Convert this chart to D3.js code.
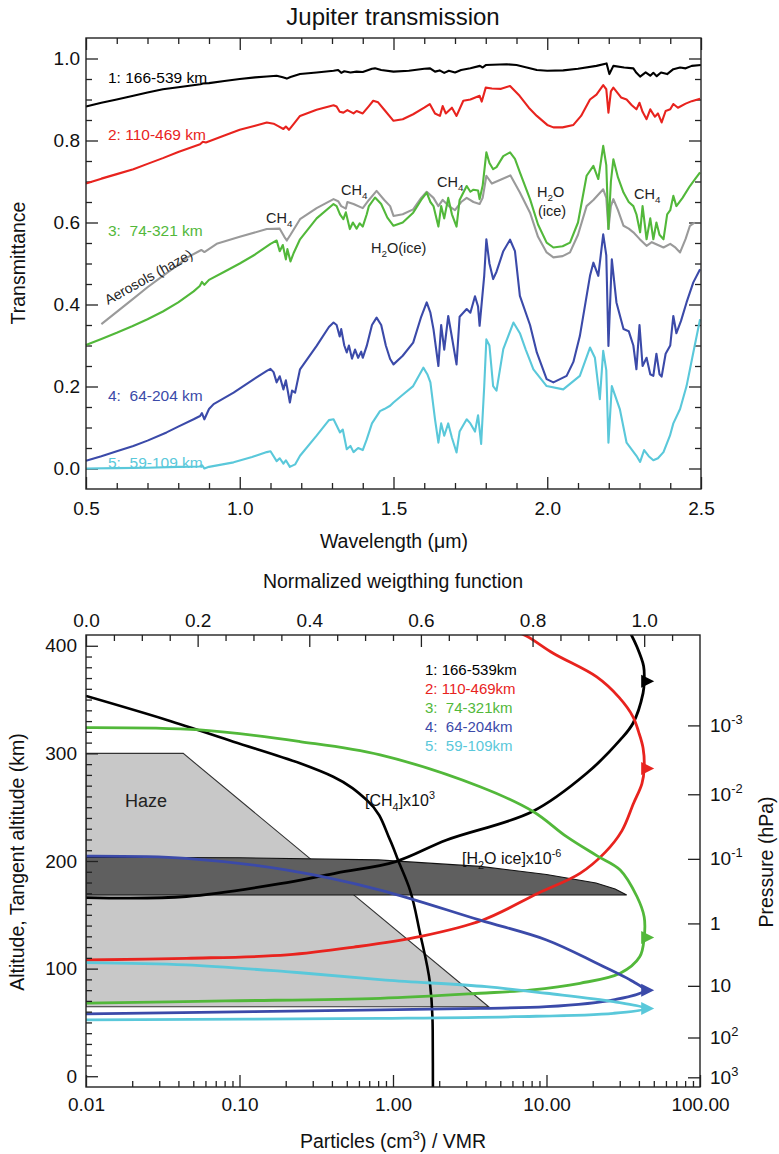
<!DOCTYPE html>
<html><head><meta charset="utf-8">
<script src="https://cdn.jsdelivr.net/npm/d3@7"></script>
<style>body{margin:0;background:#fff}svg{display:block}</style>
</head><body>
<svg id="c" width="779" height="1154"></svg>
<script>
// ---------------- DATA: top panel (wavelength µm, transmittance) ----------------
const wlTicks = [0.5, 1.0, 1.5, 2.0, 2.5];
const trTicks = [0.0, 0.2, 0.4, 0.6, 0.8, 1.0];
const seriesNames = ["1: 166-539 km", "2: 110-469 km", "3:  74-321 km", "4:  64-204 km", "5:  59-109 km"];
const seriesColors = ["#000000", "#e8231e", "#52b83a", "#3b4aa9", "#5ac8da"];
const aerosolColor = "#9a9a9a";

const spec1 = [[0.50,0.883],[0.55,0.892],[0.60,0.900],[0.654,0.909],[0.70,0.917],[0.75,0.925],[0.80,0.930],[0.872,0.937],[0.88,0.939],[0.90,0.940],[0.95,0.945],[1.0,0.950],[1.05,0.954],[1.088,0.956],[1.12,0.958],[1.14,0.954],[1.153,0.951],[1.165,0.955],[1.196,0.962],[1.25,0.966],[1.305,0.970],[1.32,0.972],[1.33,0.965],[1.34,0.969],[1.36,0.966],[1.38,0.968],[1.40,0.967],[1.43,0.975],[1.44,0.976],[1.46,0.972],[1.50,0.968],[1.55,0.970],[1.60,0.975],[1.619,0.976],[1.635,0.968],[1.65,0.971],[1.665,0.965],[1.68,0.970],[1.70,0.966],[1.72,0.972],[1.75,0.976],[1.781,0.982],[1.79,0.978],[1.80,0.984],[1.868,0.986],[1.90,0.984],[1.94,0.977],[1.966,0.972],[2.0,0.970],[2.052,0.971],[2.10,0.975],[2.16,0.982],[2.193,0.988],[2.202,0.962],[2.215,0.982],[2.25,0.978],[2.28,0.976],[2.29,0.965],[2.302,0.956],[2.32,0.966],[2.335,0.958],[2.345,0.965],[2.356,0.957],[2.37,0.966],[2.39,0.962],[2.41,0.974],[2.432,0.978],[2.45,0.976],[2.47,0.982],[2.50,0.984]];

const spec2 = [[0.50,0.695],[0.55,0.707],[0.60,0.718],[0.654,0.730],[0.70,0.743],[0.75,0.757],[0.80,0.772],[0.871,0.791],[0.88,0.797],[0.89,0.795],[0.95,0.812],[1.0,0.826],[1.05,0.836],[1.088,0.844],[1.11,0.841],[1.125,0.835],[1.142,0.828],[1.15,0.834],[1.16,0.826],[1.175,0.840],[1.196,0.860],[1.25,0.875],[1.305,0.886],[1.315,0.883],[1.325,0.870],[1.337,0.868],[1.35,0.874],[1.37,0.866],[1.38,0.872],[1.40,0.866],[1.42,0.884],[1.434,0.897],[1.45,0.893],[1.47,0.875],[1.50,0.848],[1.53,0.852],[1.564,0.864],[1.60,0.880],[1.618,0.889],[1.635,0.866],[1.651,0.860],[1.66,0.884],[1.67,0.866],[1.69,0.880],[1.705,0.860],[1.727,0.897],[1.75,0.900],[1.77,0.906],[1.78,0.909],[1.787,0.895],[1.80,0.929],[1.82,0.927],[1.85,0.926],[1.879,0.933],[1.91,0.909],[1.94,0.880],[1.966,0.860],[2.0,0.838],[2.02,0.832],[2.05,0.832],[2.085,0.838],[2.11,0.860],[2.139,0.900],[2.16,0.912],[2.182,0.935],[2.192,0.925],[2.199,0.868],[2.207,0.920],[2.215,0.929],[2.24,0.905],[2.258,0.900],[2.275,0.886],[2.29,0.876],[2.30,0.892],[2.31,0.870],[2.323,0.852],[2.335,0.876],[2.35,0.858],[2.36,0.866],[2.372,0.844],[2.385,0.872],[2.40,0.876],[2.41,0.889],[2.425,0.880],[2.45,0.890],[2.47,0.896],[2.497,0.902]];

const spec3 = [[0.50,0.301],[0.55,0.316],[0.60,0.331],[0.65,0.347],[0.70,0.364],[0.75,0.383],[0.80,0.405],[0.85,0.432],[0.87,0.445],[0.877,0.455],[0.885,0.448],[0.90,0.460],[0.95,0.480],[1.0,0.500],[1.05,0.522],[1.10,0.548],[1.12,0.556],[1.13,0.530],[1.14,0.545],[1.15,0.510],[1.155,0.535],[1.165,0.505],[1.175,0.525],[1.196,0.559],[1.25,0.610],[1.305,0.645],[1.315,0.640],[1.326,0.620],[1.337,0.608],[1.345,0.625],[1.358,0.584],[1.368,0.600],[1.38,0.585],[1.39,0.598],[1.40,0.590],[1.413,0.620],[1.42,0.640],[1.44,0.661],[1.46,0.645],[1.48,0.612],[1.50,0.592],[1.53,0.600],[1.564,0.624],[1.59,0.655],[1.608,0.673],[1.62,0.650],[1.63,0.640],[1.646,0.590],[1.655,0.640],[1.665,0.610],[1.678,0.660],[1.69,0.620],[1.705,0.590],[1.715,0.655],[1.738,0.689],[1.75,0.675],[1.76,0.680],[1.775,0.678],[1.78,0.657],[1.79,0.690],[1.802,0.771],[1.812,0.745],[1.824,0.730],[1.835,0.735],[1.857,0.762],[1.879,0.771],[1.895,0.755],[1.911,0.722],[1.944,0.657],[1.97,0.595],[1.998,0.551],[2.02,0.539],[2.05,0.542],[2.074,0.551],[2.10,0.600],[2.128,0.714],[2.15,0.738],[2.166,0.706],[2.182,0.787],[2.192,0.740],[2.199,0.584],[2.207,0.700],[2.215,0.754],[2.23,0.710],[2.248,0.673],[2.265,0.650],[2.28,0.640],[2.29,0.620],[2.302,0.576],[2.31,0.640],[2.323,0.559],[2.335,0.610],[2.345,0.559],[2.355,0.600],[2.365,0.570],[2.378,0.559],[2.39,0.620],[2.40,0.630],[2.41,0.665],[2.42,0.640],[2.44,0.660],[2.464,0.689],[2.48,0.705],[2.497,0.722]];

const specAerosol = [[0.55,0.352],[0.60,0.382],[0.65,0.412],[0.70,0.442],[0.75,0.470],[0.80,0.497],[0.83,0.515],[0.875,0.533],[0.885,0.528],[0.925,0.548],[1.0,0.565],[1.088,0.584],[1.13,0.585],[1.145,0.565],[1.153,0.556],[1.165,0.570],[1.196,0.608],[1.25,0.635],[1.305,0.657],[1.32,0.652],[1.33,0.640],[1.345,0.634],[1.35,0.650],[1.37,0.645],[1.40,0.635],[1.42,0.655],[1.445,0.677],[1.47,0.655],[1.489,0.640],[1.50,0.616],[1.53,0.620],[1.564,0.632],[1.59,0.660],[1.608,0.675],[1.63,0.660],[1.646,0.640],[1.66,0.655],[1.68,0.640],[1.70,0.630],[1.72,0.650],[1.738,0.660],[1.76,0.650],[1.78,0.645],[1.79,0.660],[1.802,0.714],[1.82,0.695],[1.85,0.705],[1.88,0.715],[1.911,0.673],[1.944,0.624],[1.97,0.565],[1.998,0.527],[2.02,0.515],[2.05,0.518],[2.074,0.527],[2.10,0.570],[2.128,0.640],[2.15,0.655],[2.182,0.681],[2.192,0.660],[2.199,0.584],[2.207,0.640],[2.215,0.657],[2.23,0.630],[2.248,0.592],[2.265,0.585],[2.28,0.576],[2.30,0.560],[2.323,0.543],[2.34,0.552],[2.36,0.545],[2.378,0.539],[2.40,0.548],[2.415,0.540],[2.432,0.527],[2.45,0.560],[2.464,0.592],[2.48,0.600]];

const spec4 = [[0.50,0.019],[0.55,0.030],[0.60,0.042],[0.654,0.055],[0.70,0.068],[0.762,0.088],[0.80,0.102],[0.85,0.120],[0.871,0.128],[0.877,0.135],[0.885,0.120],[0.90,0.145],[0.915,0.157],[0.98,0.185],[1.04,0.215],[1.088,0.238],[1.10,0.243],[1.11,0.235],[1.12,0.210],[1.13,0.225],[1.142,0.193],[1.15,0.215],[1.163,0.161],[1.17,0.190],[1.18,0.185],[1.196,0.242],[1.25,0.299],[1.29,0.345],[1.305,0.356],[1.315,0.350],[1.325,0.322],[1.33,0.340],[1.34,0.300],[1.348,0.283],[1.355,0.300],[1.365,0.268],[1.375,0.290],[1.385,0.270],[1.395,0.285],[1.40,0.270],[1.413,0.299],[1.43,0.350],[1.445,0.368],[1.46,0.350],[1.475,0.300],[1.489,0.267],[1.50,0.254],[1.53,0.275],[1.564,0.307],[1.59,0.370],[1.608,0.405],[1.62,0.380],[1.63,0.340],[1.646,0.250],[1.655,0.350],[1.665,0.290],[1.678,0.372],[1.69,0.320],[1.705,0.254],[1.715,0.370],[1.738,0.389],[1.75,0.380],[1.765,0.420],[1.775,0.395],[1.78,0.348],[1.795,0.470],[1.802,0.559],[1.812,0.500],[1.824,0.462],[1.835,0.480],[1.857,0.530],[1.879,0.558],[1.895,0.530],[1.911,0.421],[1.944,0.350],[1.966,0.283],[1.998,0.218],[2.02,0.210],[2.063,0.226],[2.085,0.260],[2.106,0.323],[2.139,0.470],[2.15,0.502],[2.166,0.470],[2.182,0.571],[2.192,0.520],[2.199,0.299],[2.21,0.510],[2.225,0.405],[2.248,0.340],[2.265,0.335],[2.28,0.300],[2.29,0.242],[2.30,0.350],[2.31,0.250],[2.323,0.270],[2.335,0.230],[2.345,0.226],[2.355,0.280],[2.365,0.230],[2.372,0.224],[2.385,0.280],[2.40,0.300],[2.41,0.372],[2.42,0.330],[2.435,0.360],[2.453,0.405],[2.475,0.454],[2.497,0.486]];

const spec5 = [[0.50,0.000],[0.60,0.001],[0.70,0.002],[0.80,0.004],[0.87,0.005],[0.877,0.008],[0.885,0.000],[0.90,0.004],[0.98,0.015],[1.04,0.028],[1.088,0.040],[1.10,0.042],[1.12,0.018],[1.13,0.025],[1.142,0.012],[1.15,0.020],[1.163,0.004],[1.18,0.010],[1.196,0.031],[1.25,0.080],[1.29,0.118],[1.305,0.120],[1.315,0.105],[1.326,0.088],[1.335,0.095],[1.348,0.047],[1.36,0.055],[1.37,0.040],[1.385,0.050],[1.40,0.045],[1.413,0.071],[1.43,0.110],[1.456,0.140],[1.47,0.145],[1.489,0.153],[1.50,0.161],[1.53,0.180],[1.564,0.201],[1.597,0.246],[1.61,0.230],[1.62,0.210],[1.635,0.120],[1.646,0.063],[1.655,0.110],[1.665,0.080],[1.678,0.110],[1.69,0.075],[1.705,0.039],[1.715,0.090],[1.738,0.120],[1.75,0.110],[1.765,0.090],[1.775,0.130],[1.785,0.060],[1.795,0.200],[1.802,0.315],[1.812,0.300],[1.824,0.201],[1.835,0.190],[1.857,0.291],[1.89,0.356],[1.911,0.330],[1.93,0.290],[1.955,0.242],[1.998,0.201],[2.052,0.193],[2.106,0.226],[2.139,0.295],[2.155,0.270],[2.171,0.169],[2.182,0.287],[2.192,0.240],[2.199,0.063],[2.21,0.201],[2.236,0.145],[2.258,0.063],[2.29,0.031],[2.302,0.016],[2.315,0.045],[2.33,0.030],[2.345,0.020],[2.36,0.025],[2.378,0.040],[2.399,0.080],[2.41,0.110],[2.432,0.145],[2.453,0.201],[2.475,0.283],[2.497,0.364]];

// ---------------- DATA: bottom panel ----------------
const partTicks = [0.01, 0.1, 1, 10, 100];
const partTickLabels = ["0.01", "0.10", "1.00", "10.00", "100.00"];
const weightTicks = [0.0, 0.2, 0.4, 0.6, 0.8, 1.0];
const altTicks = [0, 100, 200, 300, 400];
const pressureBase = ["10", "10", "10", "1", "10", "10", "10"];
const pressureExp = ["-3", "-2", "-1", "", "", "2", "3"];
const pressureAlt = [326, 262, 202, 142, 84, 36, -1];
const legendNames = ["1: 166-539km", "2: 110-469km", "3:  74-321km", "4:  64-204km", "5:  59-109km"];

// weighting functions [normalized weight, altitude km]
const wf1 = [[0,166],[0.18,167],[0.36,180],[0.45,189],[0.555,199.5],[0.646,219.5],[0.80,246],[0.897,281.5],[0.957,312.5],[0.98,328],[0.998,356],[1.0,367],[0.999,381],[0.987,399],[0.975,412],[0.96,425]];
const wf2 = [[0,108],[0.18,109.6],[0.36,112.7],[0.48,120],[0.60,130],[0.71,145],[0.81,170],[0.885,188.5],[0.93,208],[0.96,228],[0.981,253.7],[0.996,272],[1.0,286],[0.998,305],[0.99,320],[0.98,334],[0.955,352],[0.915,371],[0.837,393],[0.789,409],[0.74,420]];
const wf3 = [[0,324],[0.204,321.8],[0.383,311],[0.527,298.6],[0.706,269],[0.801,246],[0.861,222.6],[0.915,205],[0.957,191.7],[0.987,167],[1.0,148],[1.0,129],[0.992,111],[0.957,95.7],[0.885,86.4],[0.795,80.1],[0.706,77.1],[0.527,72.4],[0.25,70],[0,68]];
const wf4 = [[0,204.5],[0.179,202.5],[0.358,191.7],[0.527,173],[0.706,145],[0.825,126.6],[0.915,105],[0.98,88],[1.0,80],[0.945,71],[0.825,64.6],[0.706,63.1],[0.527,61.6],[0.3,60],[0,58]];
const wf5 = [[0,105.5],[0.179,103.4],[0.358,97.2],[0.537,89.4],[0.717,83.2],[0.825,77.1],[0.945,69.3],[1.0,63],[0.945,58.5],[0.766,55.3],[0.527,53.8],[0,52.3]];
const wfPeak = [[1.0,367],[1.0,286],[1.0,129],[1.0,80],[1.0,63]];

// CH4 profile [VMR x1e3, altitude]
const ch4 = [[0.01,353.3],[0.0336,331],[0.0912,310.9],[0.248,290.8],[0.408,278.3],[0.674,256.7],[0.956,219.6],[1.078,200.9],[1.29,173],[1.499,133.1],[1.741,86.6],[1.814,43],[1.82,-10]];
// H2O ice [particles x1e-6, altitude]
const h2oTop = [[0.01,203.5],[0.1,203],[0.8,201],[3.7,195],[10,187.5],[21,179.5],[28,174],[33.3,168.4]];
const h2oBase = 168.4;
// Haze polygon [particles, altitude]
const haze = [[0.01,300],[0.043,300],[4.2,64.5],[0.01,64.5]];

// ---------------- DRAW ----------------
const FONT = "'Liberation Sans', Arial, Helvetica, sans-serif";
const svg = d3.select("#c").attr("font-family", FONT);
const AX = "#222";

function rich(parent, x, y, parts, size, color, anchor) {
  const t = parent.append("text").attr("x", x).attr("y", y)
    .attr("font-size", size).attr("fill", color).attr("font-family", FONT)
    .style("white-space", "pre");
  if (anchor) t.attr("text-anchor", anchor);
  let shift = 0;
  parts.forEach(p => {
    const s = typeof p === "string" ? p : p[0];
    const m = typeof p === "string" ? "n" : p[1];
    const target = m === "sub" ? size * 0.3 : (m === "sup" ? -size * 0.42 : 0);
    const ts = t.append("tspan").text(s).attr("dy", target - shift);
    if (m !== "n") ts.attr("font-size", size * 0.68);
    shift = target;
  });
  return t;
}
function styleAxis(sel, fs) {
  sel.select(".domain").remove();
  sel.selectAll("line").attr("stroke", AX).attr("stroke-width", 1.3);
  sel.selectAll("text").attr("font-family", FONT).attr("font-size", fs || 19).attr("fill", "#111");
}

// ===== TOP PANEL =====
const x1 = d3.scaleLinear().domain([0.5, 2.5]).range([86, 701]);
const y1 = d3.scaleLinear().domain([-0.05, 1.05]).range([489, 38]);
const gT = svg.append("g");
const near = (a, b) => Math.abs(a - b) < 1e-6;
const xMin1 = x1.ticks(20).filter(v => !wlTicks.some(m => near(m, v)));
const yMin1 = y1.ticks(22).filter(v => !trTicks.some(m => near(m, v)) && v > -0.049 && v < 1.049);

gT.append("g").attr("transform", "translate(0,489)").call(d3.axisBottom(x1).tickValues(wlTicks).tickSize(-12).tickPadding(12.5).tickFormat(d3.format(".1f"))).call(styleAxis);
gT.append("g").attr("transform", "translate(0,489)").call(d3.axisBottom(x1).tickValues(xMin1).tickSize(-6).tickFormat("")).call(styleAxis);
gT.append("g").attr("transform", "translate(0,38)").call(d3.axisTop(x1).tickValues(wlTicks).tickSize(-12).tickFormat("")).call(styleAxis);
gT.append("g").attr("transform", "translate(0,38)").call(d3.axisTop(x1).tickValues(xMin1).tickSize(-6).tickFormat("")).call(styleAxis);
gT.append("g").attr("transform", "translate(86,0)").call(d3.axisLeft(y1).tickValues(trTicks).tickSize(-12).tickPadding(6).tickFormat(d3.format(".1f"))).call(styleAxis);
gT.append("g").attr("transform", "translate(86,0)").call(d3.axisLeft(y1).tickValues(yMin1).tickSize(-6).tickFormat("")).call(styleAxis);
gT.append("g").attr("transform", "translate(701,0)").call(d3.axisRight(y1).tickValues(trTicks).tickSize(-12).tickFormat("")).call(styleAxis);
gT.append("g").attr("transform", "translate(701,0)").call(d3.axisRight(y1).tickValues(yMin1).tickSize(-6).tickFormat("")).call(styleAxis);

const line1 = d3.line().x(d => x1(d[0])).y(d => y1(d[1]));
const specs = [
  [spec1, seriesColors[0]], [spec2, seriesColors[1]], [specAerosol, aerosolColor],
  [spec3, seriesColors[2]], [spec4, seriesColors[3]], [spec5, seriesColors[4]]
];
specs.forEach(([d, c]) => {
  gT.append("path").datum(d).attr("d", line1).attr("fill", "none")
    .attr("stroke", c).attr("stroke-width", 2.1).attr("stroke-linejoin", "round");
});
gT.append("rect").attr("x", 86).attr("y", 38).attr("width", 615).attr("height", 451)
  .attr("fill", "none").attr("stroke", AX).attr("stroke-width", 1.4);

// labels
const topLabelY = [83, 140, 236, 401, 468];
seriesNames.forEach((n, i) => {
  gT.append("text").attr("x", 108).attr("y", topLabelY[i]).text(n)
    .attr("font-size", 15.5).attr("fill", seriesColors[i]).style("white-space", "pre");
});
gT.append("text").attr("transform", "translate(108,305) rotate(-29)").text("Aerosols (haze)")
  .attr("font-size", 14).attr("fill", "#222");
rich(gT, 266, 223, ["CH", ["4", "sub"]], 14.5, "#222");
rich(gT, 341, 195, ["CH", ["4", "sub"]], 14.5, "#222");
rich(gT, 437, 187, ["CH", ["4", "sub"]], 14.5, "#222");
rich(gT, 634, 199, ["CH", ["4", "sub"]], 14.5, "#222");
rich(gT, 371, 253, ["H", ["2", "sub"], "O(ice)"], 14.5, "#222");
rich(gT, 537, 197, ["H", ["2", "sub"], "O"], 14.5, "#222");
gT.append("text").attr("x", 538).attr("y", 216).text("(ice)").attr("font-size", 14.5).attr("fill", "#222");

svg.append("text").attr("x", 393).attr("y", 25).attr("text-anchor", "middle").attr("font-size", 24).attr("fill", "#111").text("Jupiter transmission");
svg.append("text").attr("x", 394).attr("y", 548).attr("text-anchor", "middle").attr("font-size", 19.5).attr("fill", "#111").text("Wavelength (\u03bcm)");
svg.append("text").attr("transform", "translate(25,263) rotate(-90)").attr("text-anchor", "middle").attr("font-size", 19.5).attr("fill", "#111").text("Transmittance");

// ===== BOTTOM PANEL =====
const xl = d3.scaleLog().domain([0.01, 100]).range([86, 700]);
const xw = d3.scaleLinear().domain([0, 1.1]).range([86, 700]);
const ya = d3.scaleLinear().domain([-10, 410]).range([1087, 635]);
const gB = svg.append("g");
svg.append("defs").append("clipPath").attr("id", "clipB").append("rect")
  .attr("x", 86).attr("y", 635).attr("width", 614).attr("height", 452);
const gP = gB.append("g").attr("clip-path", "url(#clipB)");

// haze
const lineL = d3.line().x(d => xl(d[0])).y(d => ya(d[1]));
gP.append("path").datum(haze).attr("d", d => lineL(d) + "Z").attr("fill", "#c8c8c8").attr("stroke", "#333").attr("stroke-width", 1.1);
// H2O ice band
const h2oPoly = h2oTop.concat([[h2oTop[h2oTop.length - 1][0], h2oBase], [0.01, h2oBase]]);
gP.append("path").datum(h2oPoly).attr("d", d => lineL(d) + "Z")
  .attr("fill", "#5f5f5f").attr("stroke", "#111").attr("stroke-width", 1.1);
// CH4
const lineCH4 = d3.line().x(d => xl(d[0])).y(d => ya(d[1])).curve(d3.curveMonotoneY);
gP.append("path").datum(ch4).attr("d", lineCH4).attr("fill", "none").attr("stroke", "#000").attr("stroke-width", 2.6);

// weighting functions
const lineW = d3.line().x(d => xw(d[0])).y(d => ya(d[1])).curve(d3.curveCatmullRom.alpha(0.5));
[wf1, wf2, wf3, wf4, wf5].forEach((d, i) => {
  gP.append("path").datum(d).attr("d", lineW).attr("fill", "none")
    .attr("stroke", seriesColors[i]).attr("stroke-width", 2.8).attr("stroke-linejoin", "round");
  const px = xw(wfPeak[i][0]), py = ya(wfPeak[i][1]);
  gP.append("path").attr("d", `M${px - 3},${py - 6.5}L${px + 10},${py}L${px - 3},${py + 6.5}Z`).attr("fill", seriesColors[i]);
});

// axes
const xlMinor = [];
[0.01, 0.1, 1, 10].forEach(dec => d3.range(2, 10).forEach(k => xlMinor.push(dec * k)));
gB.append("g").attr("transform", "translate(0,1087)").call(d3.axisBottom(xl).tickValues(partTicks).tickSize(-12).tickPadding(10.5).tickFormat((d, i) => partTickLabels[i])).call(styleAxis);
gB.append("g").attr("transform", "translate(0,1087)").call(d3.axisBottom(xl).tickValues(xlMinor).tickSize(-6).tickFormat("")).call(styleAxis);
const wMinor = xw.ticks(22).filter(v => !weightTicks.some(m => near(m, v)) && v < 1.09);
gB.append("g").attr("transform", "translate(0,635)").call(d3.axisTop(xw).tickValues(weightTicks).tickSize(-12).tickPadding(8).tickFormat(d3.format(".1f"))).call(styleAxis);
gB.append("g").attr("transform", "translate(0,635)").call(d3.axisTop(xw).tickValues(wMinor).tickSize(-6).tickFormat("")).call(styleAxis);
const altMinor = d3.range(10, 400, 10).filter(v => v % 100 !== 0);
gB.append("g").attr("transform", "translate(86,0)").call(d3.axisLeft(ya).tickValues(altTicks).tickSize(-12).tickPadding(9).tickFormat(d3.format("d"))).call(styleAxis);
gB.append("g").attr("transform", "translate(86,0)").call(d3.axisLeft(ya).tickValues(altMinor).tickSize(-6).tickFormat("")).call(styleAxis);
gB.append("g").attr("transform", "translate(700,0)").call(d3.axisRight(ya).tickValues(pressureAlt).tickSize(-12).tickFormat("")).call(styleAxis);
pressureAlt.forEach((a, i) => {
  const parts = [pressureBase[i]];
  if (pressureExp[i]) parts.push([pressureExp[i], "sup"]);
  rich(gB, 710, ya(a) + 6.5, parts, 19, "#111");
});
gB.append("rect").attr("x", 86).attr("y", 635).attr("width", 614).attr("height", 452)
  .attr("fill", "none").attr("stroke", AX).attr("stroke-width", 1.4);

// legend & annotations
legendNames.forEach((n, i) => {
  gB.append("text").attr("x", 425).attr("y", 675 + i * 19).text(n)
    .attr("font-size", 15).attr("fill", seriesColors[i]).style("white-space", "pre");
});
gB.append("text").attr("x", 125).attr("y", 807).text("Haze").attr("font-size", 18).attr("fill", "#222");
rich(gB, 365, 806, ["[CH", ["4", "sub"], "]x10", ["3", "sup"]], 16, "#111");
rich(gB, 462, 864, ["[H", ["2", "sub"], "O ice]x10", ["-6", "sup"]], 16, "#111");

svg.append("text").attr("x", 393).attr("y", 588).attr("text-anchor", "middle").attr("font-size", 19.5).attr("fill", "#111").text("Normalized weigthing function");
rich(svg, 393, 1148, ["Particles (cm", ["3", "sup"], ") / VMR"], 19.5, "#111", "middle");
svg.append("text").attr("transform", "translate(24,862) rotate(-90)").attr("text-anchor", "middle").attr("font-size", 19.5).attr("fill", "#111").text("Altitude, Tangent altitude (km)");
svg.append("text").attr("transform", "translate(773,862) rotate(-90)").attr("text-anchor", "middle").attr("font-size", 19.5).attr("fill", "#111").text("Pressure (hPa)");
</script>
</body></html>
